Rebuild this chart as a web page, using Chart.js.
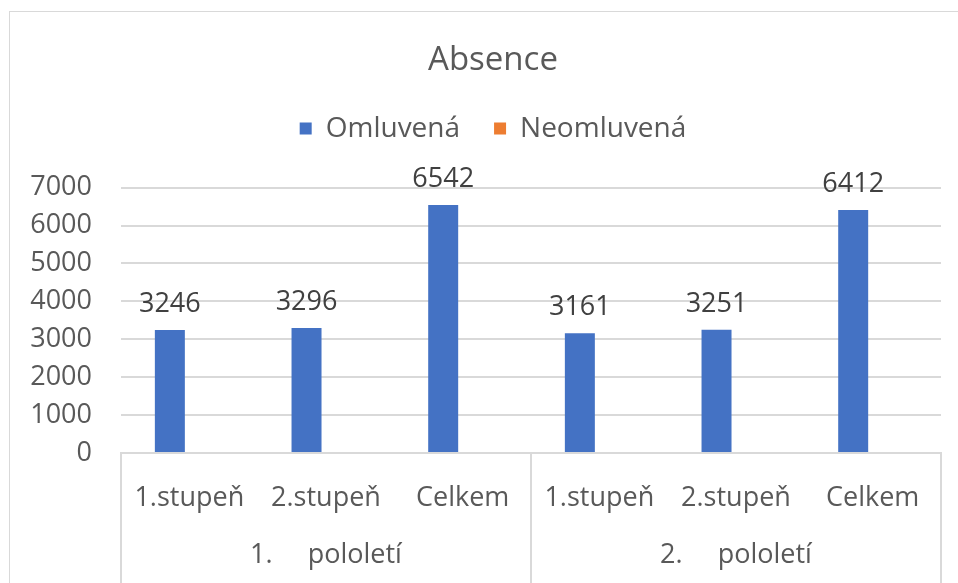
<!DOCTYPE html>
<html>
<head>
<meta charset="utf-8">
<script src="https://cdn.jsdelivr.net/npm/chart.js@4"></script>
<style>
  html, body { margin: 0; padding: 0; background: #fff; overflow: hidden; }
  #frame { position: absolute; left: 9px; top: 11px; width: 1000px; height: 700px;
           border-left: 1px solid #d9d9d9; border-top: 1px solid #d9d9d9; }
  #wrap { position: absolute; left: 0; top: 0; width: 986px; height: 583px; }
</style>
</head>
<body>
<div id="frame"></div>
<div id="wrap"><canvas id="absenceChart" width="986" height="583"></canvas></div>
<script>
const categories = ["1.stupeň", "2.stupeň", "Celkem", "1.stupeň", "2.stupeň", "Celkem"];
const groups = ["1.     pololetí", "2.     pololetí"];
const omluvena = [3246, 3296, 6542, 3161, 3251, 6412];
const neomluvena = [0, 0, 0, 0, 0, 0];
const yTicks = [0, 1000, 2000, 3000, 4000, 5000, 6000, 7000];

const textColor = "#595959";
const gridColor = "#d9d9d9";
const fontFamily = "'Open Sans', sans-serif";

// push the plot area down below the legend
const legendGap = {
  id: "legendGap",
  beforeInit(chart) {
    const fit = chart.legend.fit;
    chart.legend.fit = function () {
      fit.bind(chart.legend)();
      this.height += 35;
    };
  },
};

// value labels above the blue bars
const valueLabels = {
  id: "valueLabels",
  afterDatasetsDraw(chart) {
    const ctx = chart.ctx;
    const meta = chart.getDatasetMeta(0);
    ctx.save();
    ctx.font = "27px " + fontFamily;
    ctx.fillStyle = "#404040";
    ctx.textAlign = "center";
    ctx.textBaseline = "alphabetic";
    meta.data.forEach((bar, i) => {
      ctx.fillText(String(omluvena[i]), bar.x, bar.y - 18);
    });
    ctx.restore();
  },
};

// vertical separators of the two-level category axis
const groupLines = {
  id: "groupLines",
  afterDraw(chart) {
    const x2 = chart.scales.x2;
    const ctx = chart.ctx;
    const mid = (x2.getPixelForValue(0) + x2.getPixelForValue(1)) / 2;
    ctx.save();
    ctx.strokeStyle = gridColor;
    ctx.lineWidth = 2;
    [x2.left, mid, x2.right].forEach((px) => {
      ctx.beginPath();
      ctx.moveTo(px, chart.chartArea.bottom);
      ctx.lineTo(px, chart.height);
      ctx.stroke();
    });
    ctx.restore();
  },
};

const ctx = document.getElementById("absenceChart").getContext("2d");
new Chart(ctx, {
  type: "bar",
  data: {
    labels: categories,
    datasets: [
      {
        label: "Omluvená",
        data: omluvena,
        backgroundColor: "#4472c4",
        categoryPercentage: 0.57,
        barPercentage: 0.77,
      },
      {
        label: "Neomluvená",
        data: neomluvena,
        backgroundColor: "#ed7d31",
        categoryPercentage: 0.57,
        barPercentage: 0.77,
      },
    ],
  },
  options: {
    responsive: false,
    animation: false,
    layout: { padding: { left: 0, right: 0, top: 0, bottom: 0 } },
    plugins: {
      title: {
        display: true,
        text: "Absence",
        color: textColor,
        font: { family: fontFamily, size: 33, weight: "normal" },
        padding: { top: 41, bottom: 0 },
      },
      legend: {
        position: "top",
        labels: {
          color: textColor,
          font: { family: fontFamily, size: 28 },
          boxWidth: 12,
          boxHeight: 12,
          padding: 34,
        },
      },
      tooltip: { enabled: false },
    },
    scales: {
      x: {
        weight: 0,
        offset: true,
        grid: { display: false },
        border: { display: true, color: gridColor, width: 2 },
        ticks: {
          color: textColor,
          font: { family: fontFamily, size: 27 },
          padding: 21,
          maxRotation: 0,
          autoSkip: false,
        },
        afterFit: (scale) => { scale.height = 75; },
      },
      x2: {
        type: "category",
        position: "bottom",
        weight: 1,
        labels: groups,
        offset: true,
        grid: { display: false },
        border: { display: false },
        ticks: {
          color: textColor,
          font: { family: fontFamily, size: 27 },
          padding: 3,
          maxRotation: 0,
        },
        afterFit: (scale) => { scale.height = 55; },
      },
      y: {
        min: 0,
        max: 7000,
        afterBuildTicks: (scale) => {
          scale.ticks = yTicks.map((v) => ({ value: v }));
        },
        grid: { color: gridColor, lineWidth: 2, drawTicks: false },
        border: { display: false },
        ticks: {
          color: textColor,
          font: { family: fontFamily, size: 27 },
          padding: 29,
          callback: (value) => String(value),
        },
        afterFit: (scale) => { scale.width = 121; },
      },
      // empty right-hand axis: keeps the plot edge where the reference has it
      yRight: {
        position: "right",
        min: 0,
        max: 7000,
        grid: { display: false },
        border: { display: false },
        ticks: { display: false },
        afterFit: (scale) => { scale.width = 45; },
      },
    },
  },
  plugins: [legendGap, valueLabels, groupLines],
});
</script>
</body>
</html>
